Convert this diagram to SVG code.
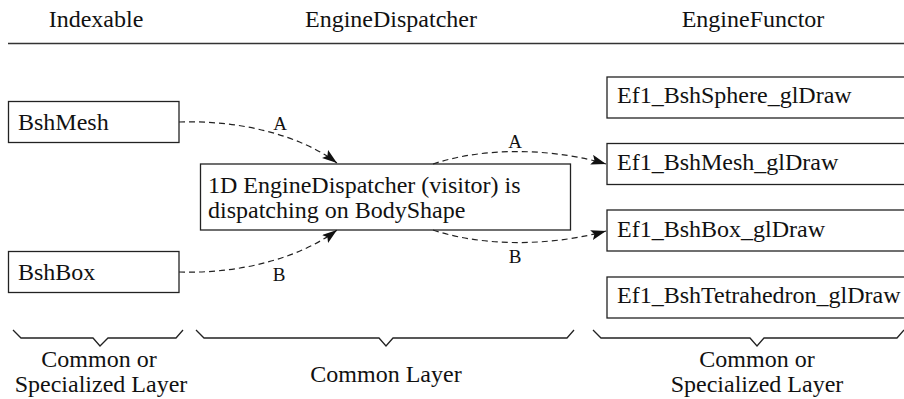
<svg xmlns="http://www.w3.org/2000/svg" width="904" height="399" viewBox="0 0 904 399" font-family="Liberation Serif, Times New Roman, DejaVu Serif, serif">
<style>
text{font-family:'Liberation Serif','Times New Roman','DejaVu Serif',serif;fill:#111;}
.t{font-size:24px;}
.h{font-size:24px;text-anchor:middle;}
.l{font-size:19px;text-anchor:middle;}
.box{fill:#fff;stroke:#222;stroke-width:1.3;}
.conn{fill:none;stroke:#222;stroke-width:1.2;stroke-dasharray:6,4;}
.brace{fill:none;stroke:#222;stroke-width:1.3;}
</style>
<defs>
<marker id="arr" markerUnits="userSpaceOnUse" markerWidth="16" markerHeight="12" refX="15" refY="5" orient="auto">
<path d="M0,0 L15,5 L0,10 L3,5 z" fill="#111"/>
</marker>
</defs>
<g id="header">
<text class="h" x="96" y="27" font-family="Liberation Serif">Indexable</text>
<text class="h" x="391" y="27" font-family="Liberation Serif">EngineDispatcher</text>
<text class="h" x="753" y="27" font-family="Liberation Serif">EngineFunctor</text>
<line x1="8" y1="43.5" x2="904" y2="43.5" stroke="#333" stroke-width="1.4"/>
</g>
<g id="n-bshmesh">
<rect class="box" x="8.5" y="101.5" width="170.5" height="41"/>
<text class="t" x="18" y="130">BshMesh</text>
</g>
<g id="n-bshbox">
<rect class="box" x="8.5" y="251.5" width="170.5" height="41"/>
<text class="t" x="18" y="280">BshBox</text>
</g>
<g id="n-dispatcher">
<rect class="box" x="200.5" y="164" width="370" height="66"/>
<text class="t" x="208" y="193">1D EngineDispatcher (visitor) is</text>
<text class="t" x="208" y="217.5">dispatching on BodyShape</text>
</g>
<g id="n-sphere">
<rect class="box" x="607" y="77" width="310" height="41"/>
<text class="t" x="617" y="103">Ef1_BshSphere_glDraw</text>
</g>
<g id="n-mesh">
<rect class="box" x="607" y="143.5" width="310" height="41"/>
<text class="t" x="617" y="170">Ef1_BshMesh_glDraw</text>
</g>
<g id="n-box">
<rect class="box" x="607" y="210" width="310" height="41"/>
<text class="t" x="617" y="237">Ef1_BshBox_glDraw</text>
</g>
<g id="n-tetra">
<rect class="box" x="607" y="277" width="310" height="41"/>
<text class="t" x="617" y="303">Ef1_BshTetrahedron_glDraw</text>
</g>
<g id="connectors">
<path class="conn" d="M179,122 C240,120 300,135 337,163" marker-end="url(#arr)"/>
<path class="conn" d="M179,272 C240,274 300,258 337,230" marker-end="url(#arr)"/>
<path class="conn" d="M433,164 C490,145 560,150 606,164" marker-end="url(#arr)"/>
<path class="conn" d="M433,230 C490,249 560,244 606,231" marker-end="url(#arr)"/>
<text class="l" x="280" y="130">A</text>
<text class="l" x="279" y="281">B</text>
<text class="l" x="515" y="148">A</text>
<text class="l" x="515" y="263">B</text>
</g>
<g id="braces">
<path class="brace" d="M13,330 L21,338 L93,338 L100,346 L108,338 L176,338 L183,330"/>
<path class="brace" d="M196,330 L204,338 L379,338 L386,346 L393,338 L567,338 L574,330"/>
<path class="brace" d="M593,330 L601,338 L750,338 L757,346 L764,338 L897,338 L904,330"/>
<text class="h" x="99" y="367">Common or</text>
<text class="h" x="101" y="392">Specialized Layer</text>
<text class="h" x="386" y="382">Common Layer</text>
<text class="h" x="757" y="367">Common or</text>
<text class="h" x="757" y="392">Specialized Layer</text>
</g>
</svg>
